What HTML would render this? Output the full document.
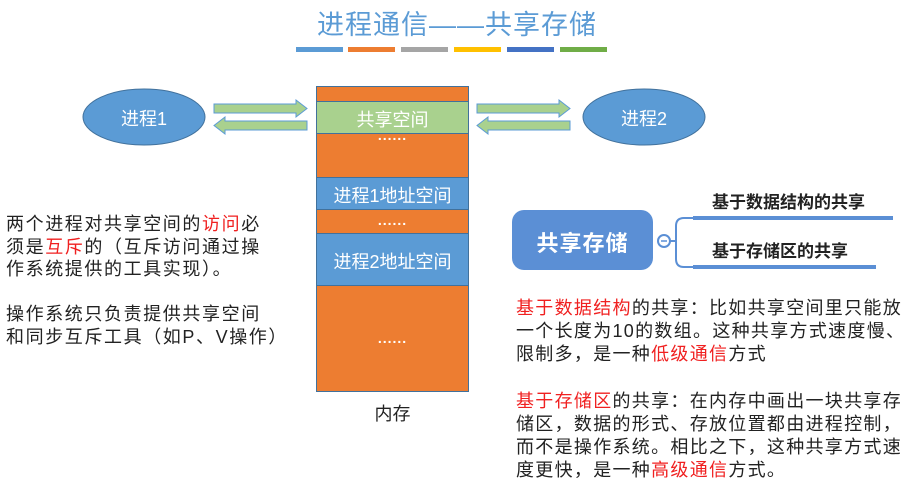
<!DOCTYPE html>
<html><head><meta charset="utf-8"><style>
body{margin:0;width:914px;height:491px;background:#fff;position:relative;overflow:hidden;font-family:"Liberation Sans","Noto Sans CJK SC",sans-serif;}
.a{position:absolute;white-space:nowrap;}
.r{color:#f02020;}
.lt{font-size:18px;letter-spacing:1.6px;line-height:22.5px;color:#222;}
.rt{font-size:18px;letter-spacing:1.3px;line-height:23.2px;color:#222;}
.d{font-size:14px;font-weight:bold;letter-spacing:1px;}
</style></head><body>
<svg class="a" style="left:0;top:0" width="914" height="491">
<rect x="296" y="47" width="47" height="5" fill="#5b9bd5"/>
<rect x="348" y="47" width="47" height="5" fill="#ed7d31"/>
<rect x="401" y="47" width="47" height="5" fill="#a5a5a5"/>
<rect x="454" y="47" width="47" height="5" fill="#ffc000"/>
<rect x="507" y="47" width="47" height="5" fill="#4472c4"/>
<rect x="560" y="47" width="47" height="5" fill="#70ad47"/>
<ellipse cx="144" cy="117" rx="61" ry="28" fill="#5b9bd5" stroke="#41719c"/>
<ellipse cx="644" cy="117" rx="61" ry="28" fill="#5b9bd5" stroke="#41719c"/>
<g fill="#a9d18e" stroke="#5b9bd5" stroke-width="1">
<polygon points="214,104 296,104 296,100 307,108.5 296,117 296,113 214,113"/>
<polygon points="307,121 225,121 225,117 214,125.5 225,134 225,130 307,130"/>
<polygon points="477,104 559,104 559,100 570,108.5 559,117 559,113 477,113"/>
<polygon points="570,121 488,121 488,117 477,125.5 488,134 488,130 570,130"/>
</g>
<g stroke="#41719c" stroke-width="1">
<rect x="316.5" y="86.5" width="152" height="305" fill="#ed7d31"/>
<rect x="316.5" y="101.5" width="152" height="32" fill="#a9d18e"/>
<rect x="316.5" y="177.5" width="152" height="32" fill="#5b9bd5"/>
<rect x="316.5" y="233.5" width="152" height="52" fill="#5b9bd5"/>
</g>
<rect x="512" y="210" width="141" height="60" rx="12" fill="#5b8fd5"/>
<path d="M670 241 H676 M693 218 H684 Q676 218 676 226 V259 Q676 267 684 267 H693" stroke="#5b8fd5" stroke-width="2" fill="none"/>
<rect x="693" y="216" width="200" height="4" fill="#5b8fd5"/>
<rect x="693" y="265" width="183" height="4" fill="#5b8fd5"/>
<circle cx="664" cy="241" r="6" fill="#fff" stroke="#5b8fd5" stroke-width="2"/>
<line x1="661" y1="241" x2="667" y2="241" stroke="#5b8fd5" stroke-width="1.5"/>
</svg>
<div class="a" style="left:0;width:914px;top:3px;text-align:center;font-size:27px;color:#5b9bd5;letter-spacing:1px">进程通信——共享存储</div>
<div class="a" style="left:83px;width:122px;top:105px;text-align:center;font-size:18px;color:#fff">进程1</div>
<div class="a" style="left:583px;width:122px;top:105px;text-align:center;font-size:18px;color:#fff">进程2</div>
<div class="a" style="left:316px;width:153px;top:106px;text-align:center;font-size:18px;color:#fff">共享空间</div>
<div class="a d" style="left:316px;width:153px;top:127px;text-align:center;color:#fff">......</div>
<div class="a" style="left:316px;width:153px;top:182px;text-align:center;font-size:18px;color:#fff">进程1地址空间</div>
<div class="a d" style="left:316px;width:153px;top:212px;text-align:center;color:#fff">......</div>
<div class="a" style="left:316px;width:153px;top:248px;text-align:center;font-size:18px;color:#fff">进程2地址空间</div>
<div class="a d" style="left:316px;width:153px;top:330px;text-align:center;color:#fff">......</div>
<div class="a" style="left:316px;width:153px;top:400px;text-align:center;font-size:18px;color:#222">内存</div>
<div class="a" style="left:512px;width:141px;top:226px;text-align:center;font-size:22px;font-weight:bold;color:#fff;letter-spacing:1px">共享存储</div>
<div class="a" style="left:712px;top:188px;font-size:17px;font-weight:bold;color:#222">基于数据结构的共享</div>
<div class="a" style="left:712px;top:237px;font-size:17px;font-weight:bold;color:#222">基于存储区的共享</div>
<div class="a lt" style="left:6px;top:213px">两个进程对共享空间的<span class="r">访问</span>必<br>须是<span class="r">互斥</span>的（互斥访问通过操<br>作系统提供的工具实现）。<br><br>操作系统只负责提供共享空间<br>和同步互斥工具（如P、V操作）</div>
<div class="a rt" style="left:516px;top:297px">
<span class="r">基于数据结构</span>的共享：比如共享空间里只能放<br>一个长度为10的数组。这种共享方式速度慢、<br>限制多，是一种<span class="r">低级通信</span>方式<br><br><span class="r">基于存储区</span>的共享：在内存中画出一块共享存<br>储区，数据的形式、存放位置都由进程控制，<br>而不是操作系统。相比之下，这种共享方式速<br>度更快，是一种<span class="r">高级通信</span>方式。</div>
</body></html>
